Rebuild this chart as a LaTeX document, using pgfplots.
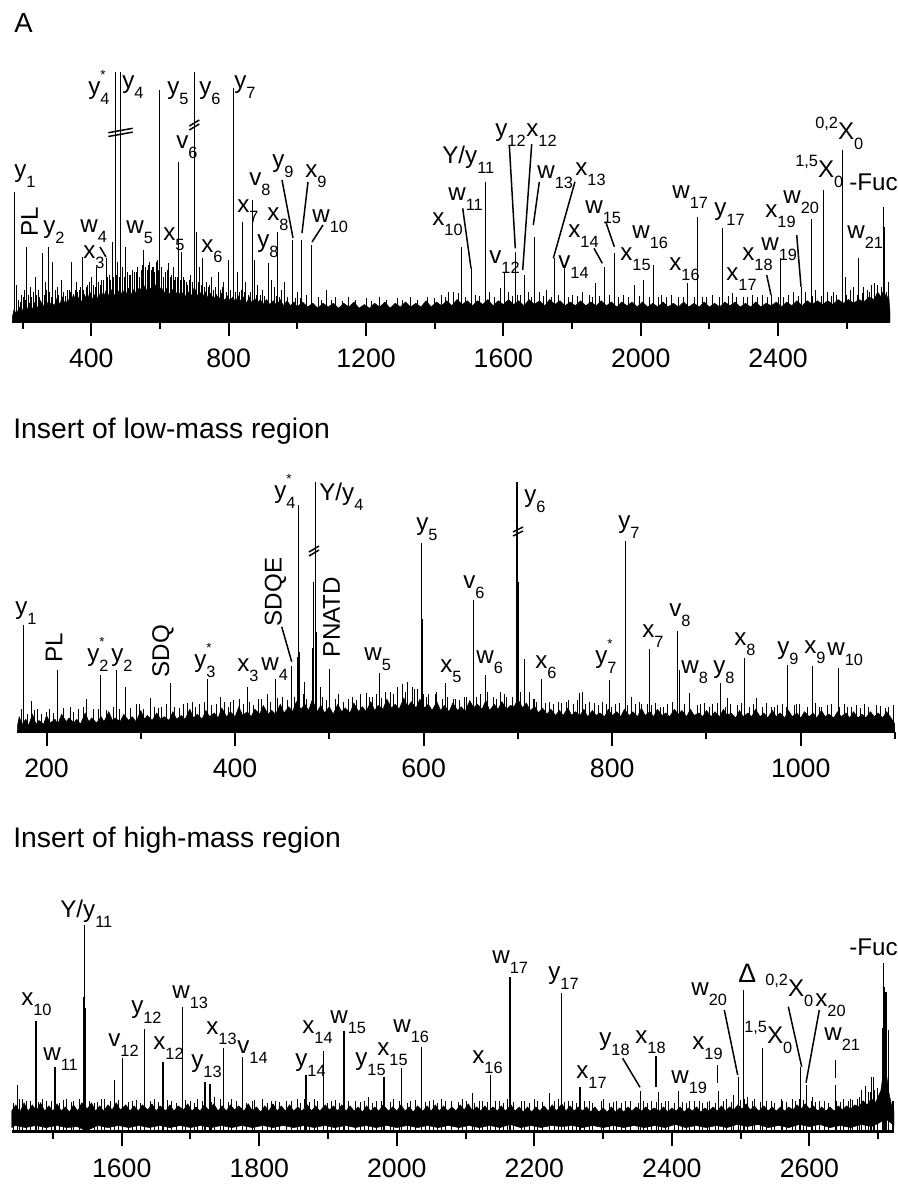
\documentclass[border=0pt]{standalone}
\usepackage{fontspec}
\setmainfont{Liberation Sans}
\usepackage{pgfplots}
\pgfplotsset{compat=1.18}

% label helpers: subscript, asterisk, prescript
\newcommand{\sbs}[1]{\raisebox{-6pt}{\fontsize{9.8}{10}\selectfont #1}}
\newcommand{\st}{\rlap{\raisebox{8.5pt}{\fontsize{8}{8}\selectfont *}}}
\newcommand{\pre}[1]{\raisebox{6.6pt}{\fontsize{9.8}{10}\selectfont #1}}

\pgfplotsset{
  spec/.style={
    scale only axis,
    anchor=south west,
    axis x line*=bottom,
    axis y line=none,
    ymin=0, ymax=100,
    tick align=outside,
    major tick length=8.4pt,
    minor tick length=4.2pt,
    every tick/.style={line width=1.2pt, black},
    axis line style={line width=1.5pt},
    xticklabel style={font=\fontsize{16}{18}\selectfont, inner sep=0pt, yshift=-7.8pt},
    /pgf/number format/assume math mode=true,
    /pgf/number format/1000 sep={},
    scaled x ticks=false,
  },
  stick/.style={ycomb, no markers, black, line width=0.5pt},
  grass/.style={ycomb, no markers, black, line width=0.4pt},
  band/.style={fill=black, draw=black, line width=0.3pt, no markers},
}

\begin{document}
\begin{tikzpicture}
\useasboundingbox (0,0) rectangle (538.8pt,-710.4pt);

%-----------------------------
% Top: full spectrum
%-----------------------------
\begin{axis}[spec,
    at={(7.2pt,-193.2pt)},
    width=526.8pt, height=150pt,
    xmin=169, xmax=2726,
    xtick={400,800,...,2400},
    minor xtick={200,600,...,2600}]
\addplot[band] coordinates {
(170,2)(175,5)(182,3)(190,6)(198,4)(205,7)(212,4.5)(220,7.5)(228,5)(236,8)(244,5.5)(252,8.5)(260,6)(268,9)(276,6)(284,8)(292,6.5)(300,9.5)(308,7)(316,10)(324,7)(332,9)(340,7.5)(348,11)(356,8)(364,10)(372,8)(380,11)(388,8.5)(396,12)(404,9)(412,11.5)(420,9)(428,12.5)(436,10)(444,13)(452,10)(460,13)(468,10.5)(476,13)(484,10.5)(492,12.5)(500,10.5)(508,13.5)(516,11)(524,13)(532,11)(540,14)(548,11.5)(556,14.5)(564,11.5)(572,13.5)(580,12)(588,15)(596,12)(604,14)(612,11.5)(620,13.5)(628,11)(636,13)(644,10.5)(652,12.5)(660,10.5)(668,12)(676,10)(684,12)(692,10.5)(700,14)(708,10.5)(716,12)(724,10)(732,12)(740,9.5)(748,11.5)(756,9)(764,11)(772,9)(780,11.5)(788,8.5)(796,10.5)(804,8.5)(812,10)(820,8)(828,10.5)(836,8)(844,10)(852,7.5)(860,10)(868,7.5)(876,9.5)(884,7.5)(892,9)(900,7)(910,9)(920,7)(930,8.5)(940,6.5)(950,9)(960,6.5)(970,8.5)(980,6.5)(990,8)(1000,6)(1015,8)(1030,6)(1045,7.5)(1060,5.5)(1075,7.5)(1090,6)(1105,7.5)(1120,5.5)(1135,7.5)(1150,6)(1165,8)(1180,5.5)(1195,7)(1210,5.5)(1225,7.5)(1240,6)(1255,8)(1270,5.5)(1285,7.5)(1300,6)(1315,8)(1330,6)(1345,7.5)(1360,6)(1375,8.5)(1390,6)(1405,8)(1420,6.5)(1435,8.5)(1450,6.5)(1465,9)(1480,7)(1495,8.5)(1510,6.5)(1525,8.5)(1540,7)(1555,9)(1570,6.5)(1585,8.5)(1600,7)(1615,9)(1630,7)(1645,8.5)(1660,6.5)(1675,9)(1690,7)(1705,8.5)(1720,6.5)(1735,9)(1750,7)(1765,8.5)(1780,6.5)(1795,8)(1810,6.5)(1825,8.5)(1840,6.5)(1855,8)(1870,6.5)(1885,8.5)(1900,6.5)(1915,8)(1930,6)(1945,8)(1960,6.5)(1975,8)(1990,6)(2005,8)(2020,6)(2035,7.5)(2050,6)(2065,8)(2080,6)(2095,7.5)(2110,6)(2125,8)(2140,6)(2155,7.5)(2170,6)(2185,8)(2200,6)(2215,7.5)(2230,6)(2245,8)(2260,6.5)(2275,8)(2290,6)(2305,7.5)(2320,6)(2335,8)(2350,6)(2365,7.5)(2380,6.5)(2395,8)(2410,6)(2425,8)(2440,6.5)(2455,8.5)(2470,6.5)(2485,8.5)(2500,7)(2515,8.5)(2530,7)(2545,8.5)(2560,7)(2575,9)(2590,7.5)(2605,9)(2620,7.5)(2635,9)(2650,8)(2665,10)(2680,9)(2690,12)(2700,10)(2708,13)(2716,9)(2722,11)(2726,4)
} \closedcycle;
% fine noise spikes
\addplot[grass] coordinates {
(186,9)(193,8)(201,10)(208,9)(216,11)(226,10)(231,12)(240,11)(249,10)(256,12)(263,11)(270,13)(279,12)(283,10)(295,13)(305,11)(318,12)(325,10.5)(335,13)(339,12)(352,13)(360,12)(369,14)(378,13)(385,14)(394,16)(405,15)(411,14)(421,16)(426,15)(436,17)(448,18)(456,17)(464,18)(472,19)(481,18)(489,19)(496,18)(505,20)(514,19)(518,21)(526,20)(535,22)(545,21)(550,23)(558,22)(566,23)(574,21)(581,22)(589,24)(596,21)(604,22)(615,20)(620,21)(630,18)(634,19)(642,17)(650,18)(658,17)(668,18)(676,16)(685,17)(694,16)(711,16)(720,15)(728,14)(740,14)(745,15)(756,13)(762,14)(776,13)(781,14)(792,12)(806,13)(818,12)(830,12)(836,13)(846,12)(858,11)(864,12)(880,11)(892,11)(905,10.5)(915,10)(938,10.5)(948,10)(972,10)(995,9.5)(1010,9.5)(1040,9)(1070,9)(1100,9)(1130,8.5)(1170,9)(1215,8.5)(1260,9)(1305,9)(1350,9)(1400,9.5)(1430,10)(1490,10)(1530,10.5)(1575,10)(1625,10.5)(1640,11)(1680,10)(1715,10.5)(1740,10)(1790,10)(1815,10.5)(1860,10)(1880,10.5)(1935,10)(1965,10)(1995,10.5)(2025,10)(2050,10)(2075,10)(2125,10)(2155,10)(2180,10)(2230,10)(2255,10.5)(2310,10)(2340,10)(2370,10)(2400,10)(2415,10)(2460,10.5)(2500,10.5)(2525,10.5)(2555,10.5)(2570,11)(2600,11)(2630,11)(2645,11.5)(2665,12)(2700,14)
};
% minor peaks
\addplot[stick] coordinates {
(182,15)(195,11)(205,13)(222,14)(236,18)(245,13)(265,16)(288,24)(300,14)(312,17)(330,13)(343,24)(356,16)(365,13)(374,26)(390,15)(400,18)(430,17)(452,19)(460,32)(476,24)(492,22)(510,19)(520,17)(530,20)(540,18)(562,21)(570,24)(578,22)(585,20)(592,25)(610,18)(639,22)(646,18)(663,28)(672,17)(680,15)(690,19)(706,36)(715,22)(735,16)(750,18)(770,20)(785,16)(825,20)(850,16)(874,25)(885,15)(898,13)(925,17)(932,14)(955,13)(963,16)(1000,12)(1025,11)(1060,10)(1086,13)(1110,10)(1150,10)(1200,9.5)(1240,10)(1290,9.5)(1330,10)(1380,10)(1420,11)(1440,12)(1454,12)(1470,11.6)(1520,11)(1560,12)(1590,13.5)(1615,12)(1650,11)(1672,12)(1705,12)(1726,13)(1760,11)(1800,11)(1830,12)(1850,11)(1868,15.5)(1910,11)(1950,11)(1981,15)(2007,17)(2060,11)(2090,11)(2110,10)(2190,10)(2210,11)(2280,10)(2300,10)(2325,11)(2354,11)(2380,11)(2430,11)(2445,12)(2467,14)(2480,12)(2510,13)(2545,12)(2560,12)(2595,18)(2610,13)(2620,14)(2650,14)(2660,13)(2672,15)(2680,15.5)(2690,15)(2715,12)(2720,16)
};
% assigned peaks
\addplot[stick] coordinates {
(177,52.1)(212,30)(258,27.6)(274,30)(416,22)(443,25.6)(469,100)(485,100)(486,65)(500,30)(553,28.8)(598,92.8)(624,23.6)(653,64.1)(700,100)(725,25.6)(798,24.8)(813,93.5)(840,40.1)(869,48.8)(915,23.5)(942,36.1)(986,32.8)(1013,32.8)(1042,31)(1478.6,30.1)(1505.8,21.5)(1547.4,56.1)(1601.8,19.5)(1634.8,28.1)(1660,18.8)(1689.3,34.1)(1747.5,25.5)(1776.6,22.8)(1893,22.1)(1923,27.5)(2036.7,22.8)(2136.8,15.5)(2164.9,42.1)(2238.7,37.5)(2266.8,11.5)(2406.5,25.5)(2495.7,41.1)(2530.7,52.8)(2586,68.8)(2633.7,25.5)(2706.5,45.9)(2710,38)
};
\end{axis}

%-----------------------------
% Middle: low-mass insert
%-----------------------------
\begin{axis}[spec,
    at={(10.38pt,-439.02pt)},
    width=526.62pt, height=150pt,
    xmin=169, xmax=1100,
    xtick={200,400,...,1000},
    minor xtick={300,500,...,1100}]
\addplot[band] coordinates {
(169,2)(171,6)(174,3)(178,5)(181,2.5)(185,7)(189,3)(192,4.5)(197,3)(200,6.5)(204,3.5)(209,5)(212,3)(216,7)(221,4)(224,5.5)(229,3.5)(232,5)(236,3)(241,7.5)(245,4)(248,5.5)(253,3.5)(258,6)(261,4)(266,8)(270,4.5)(273,5.5)(278,4)(282,7)(287,4.5)(291,6)(295,4)(300,8.5)(304,5)(307,6.5)(312,4.5)(317,7.5)(321,5)(325,6)(330,4.5)(334,8)(338,5)(343,6.5)(347,5)(352,9)(356,5.5)(360,7)(365,5)(369,8.5)(373,6)(378,7.5)(382,5.5)(386,9.5)(391,6)(395,8)(400,6)(404,10)(408,6.5)(413,8)(417,6)(421,9)(426,7)(430,10.5)(435,7)(439,8.5)(443,7)(448,11)(452,7.5)(457,10)(461,8)(465,12)(470,9)(474,11)(478,8.5)(482,13)(487,8)(491,10.5)(495,7.5)(500,10)(504,7)(509,11)(513,8)(517,9.5)(522,7.5)(526,11.5)(531,8)(535,10)(539,8)(544,12)(548,8.5)(552,10.5)(557,9)(561,13)(566,9.5)(570,11)(574,9)(579,13.5)(583,10)(587,12)(592,9.5)(596,13)(601,9.5)(605,11)(609,8.5)(614,12)(618,8.5)(622,10.5)(627,8)(631,11.5)(636,8.5)(640,10)(644,8)(649,12.5)(653,9.5)(657,11)(662,9)(666,12.5)(670,8.5)(675,11)(679,9)(683,12)(688,9)(692,10.5)(696,10)(700,13)(705,9.5)(709,11.5)(713,8.5)(718,10)(722,7.5)(726,9.5)(731,7)(735,9)(740,6.5)(744,8.5)(748,6.5)(753,9.5)(757,6.5)(761,8)(766,6.5)(770,9)(774,6)(779,8.5)(783,6.5)(787,7.5)(792,6)(796,9)(800,6.5)(805,8)(809,6)(813,9)(818,6.5)(822,8)(827,6)(831,9.5)(835,6.5)(840,8)(844,6)(848,9)(853,6.5)(857,7.5)(861,6)(866,9)(870,7)(874,8.5)(879,6)(883,9)(887,6.5)(892,7.5)(896,6)(900,8.5)(905,6)(909,8)(914,6)(918,9)(922,6.5)(926,7.5)(931,5.5)(935,8.5)(939,6)(944,7.5)(948,6)(952,9)(957,6)(961,7.5)(965,5.5)(970,8.5)(974,6)(978,7.5)(983,5.5)(987,8.5)(991,6)(996,7.5)(1000,5.5)(1004,8)(1009,6)(1013,7.5)(1017,5.5)(1022,8.5)(1026,6)(1030,7)(1035,5.5)(1039,8)(1043,6)(1048,7.5)(1052,5.5)(1056,8)(1061,5.5)(1065,7)(1069,5.5)(1074,8)(1078,6)(1082,7.5)(1087,5.5)(1091,8)(1095,6)(1100,3)
} \closedcycle;
\addplot[grass] coordinates {
(173,9)(180,7)(187,8.5)(194,7)(203,9)(207,7.5)(218,9.5)(228,8)(234,9)(239,10)(255,9)(263,8.5)(271,10)(277,9)(289,9.5)(298,11)(303,9)(314,10)(319,9.5)(327,11)(336,10)(341,9.5)(349,11.5)(358,10)(362,11)(367,12)(375,10.5)(380,11)(389,12)(393,10)(398,12.5)(409,11)(415,12)(419,10.5)(428,13)(437,12)(445,13.5)(455,12.5)(463,14)(472,15)(476,13)(493,14)(497,12.5)(506,13)(515,12)(524,14)(529,12.5)(533,15)(542,14)(550,15)(555,13.5)(559,16)(568,15)(581,16)(590,17)(600,15)(603,14)(612,15)(620,13)(625,14)(634,13)(638,12.5)(643,14)(656,14)(660,15)(668,16)(677,13)(686,15)(694,14)(703,16)(716,13)(720,12)(729,11.5)(733,12)(738,11)(746,11.5)(751,12)(759,11)(763,12.5)(772,11)(781,11.5)(785,10.5)(794,11)(799,10)(808,11.5)(816,10.5)(825,11)(829,12)(837,11)(842,10.5)(846,11.5)(851,10)(859,11)(864,12)(877,11)(890,10.5)(894,11)(903,10)(912,11.5)(920,10)(925,11)(933,10.5)(937,11.5)(946,10)(950,11)(959,10)(963,11.5)(972,10)(980,11)(985,10)(993,10.5)(998,11)(1007,10)(1015,11.5)(1020,10)(1028,10.5)(1033,11)(1041,10)(1046,11)(1054,10)(1059,10.5)(1067,11)(1072,10)(1080,10.5)(1093,10)(1098,10.5)
};
\addplot[stick] coordinates {
(183.5,12.4)(190,9)(200,8)(225,10)(242.6,13)(250,9)(284,18)(295,11)(310.5,13.4)(322,10)(345,11)(355,12)(384,14)(395,12)(405,13)(425,13)(434,15)(450,14)(460,26.3)(466,30)(468,32)(474,20)(482.4,33.5)(483.5,60)(485.8,40)(490,18)(510,15)(520,13)(539.6,15.4)(546,14)(565,16)(572,18)(577,19)(583,20)(588,18)(593,17)(598.5,45)(605,15)(614,16)(631.5,13)(645,14)(653.3,30)(674,14)(681,16)(688,14)(698.6,100)(700.2,60)(706.8,29.1)(712,16)(718,13)(742.9,12)(753.5,12.7)(765,15.5)(768.8,16)(776,12)(790,12)(803,11)(814.2,35)(820,14)(831,11)(854.3,10)(881.5,15.6)(897.8,11.4)(906,11)(922.6,13.6)(952.9,13.5)(968.5,10)(975,10.5)(995,11)(1022,10)(1050,10)(1063,9.5)(1085,10.3)(1090,9.5)
};
\addplot[stick] coordinates {
(175.4,42.7)(211.4,24.7)(257.5,22.7)(274,24.7)(331.7,19.6)(370.5,21.1)(413,18)(442.4,21.1)(467.1,90.7)(484.8,100)(500,25.1)(552.7,23.5)(598,75.6)(623.6,19.4)(652.7,52.7)(665.9,22.7)(699.4,100)(724.5,21.1)(796.7,20.7)(813.6,76.3)(839.8,33)(868.8,40.4)(871,24.7)(914.4,19.4)(940.6,29.6)(985.8,26.7)(1012.3,26.4)(1040.3,25.6)
};
\end{axis}

%-----------------------------
% Bottom: high-mass insert
%-----------------------------
\begin{axis}[spec,
    at={(7.02pt,-679.02pt)},
    width=529.38pt, height=124.02pt,
    xmin=1440, xmax=2723,
    xtick={1600,1800,...,2600},
    minor xtick={1500,1700,...,2700}]
\addplot[band] coordinates {
(1440,10)(1446,13)(1452,9.5)(1458,14)(1464,10)(1470,13)(1476,10)(1482,14)(1488,10)(1494,12.5)(1500,10)(1506,13.5)(1512,10)(1518,12)(1524,9.5)(1530,13)(1536,10)(1542,14)(1550,11)(1556,14)(1562,10)(1568,12.5)(1574,10)(1580,13)(1586,10.5)(1592,14)(1598,10.5)(1606,13)(1612,10)(1618,12.5)(1624,10)(1630,13)(1638,10.5)(1644,13.5)(1650,10)(1656,12.5)(1664,10)(1670,13)(1676,10)(1682,12.5)(1690,10.5)(1696,13.5)(1702,10)(1708,12)(1714,10)(1720,13)(1726,10.5)(1734,13.5)(1740,10)(1746,12.5)(1752,10)(1758,13)(1764,10.5)(1770,12.5)(1778,10)(1784,13.5)(1790,10)(1796,12)(1802,9.5)(1808,12.5)(1814,10)(1820,13.5)(1826,10)(1832,12.5)(1838,10)(1844,13)(1850,10)(1856,12)(1862,10)(1870,13)(1876,10)(1882,12.5)(1888,10)(1896,13)(1902,10.5)(1908,12.5)(1914,10)(1920,13)(1926,10)(1932,12.5)(1938,10)(1944,12)(1950,9.5)(1956,12.5)(1962,10)(1968,12)(1974,10)(1980,13)(1988,10)(1994,12)(2000,10)(2006,13)(2012,10)(2018,12)(2024,9.5)(2030,12.5)(2038,10)(2044,12.5)(2050,10)(2056,13)(2062,10)(2068,12.5)(2074,10)(2080,12)(2086,10)(2092,13)(2098,10.5)(2104,13.5)(2110,10)(2116,12)(2122,10)(2128,12.5)(2134,10)(2140,12)(2146,10)(2152,12.5)(2158,10)(2166,13)(2172,10)(2178,12)(2184,9.5)(2190,12)(2196,9.5)(2202,12)(2208,10)(2214,12.5)(2220,10)(2226,13)(2232,10)(2240,13.5)(2246,10)(2252,12.5)(2258,10)(2264,12)(2270,10)(2276,12)(2282,9.5)(2288,12)(2294,9.5)(2300,11.5)(2306,9.5)(2312,12)(2318,9.5)(2324,11.5)(2330,9.5)(2336,12)(2342,10)(2348,12)(2356,10)(2362,12)(2368,10)(2374,11.5)(2382,10)(2388,12)(2394,9.5)(2400,11.5)(2406,10)(2412,12)(2418,9.5)(2424,11.5)(2430,10)(2436,12)(2442,9.5)(2448,11.5)(2454,10)(2460,12)(2466,10)(2472,12.5)(2478,10)(2484,12)(2490,10.5)(2496,13)(2502,11)(2508,13.5)(2514,10.5)(2520,12.5)(2526,10)(2534,12.5)(2540,10)(2546,12)(2552,10)(2558,12)(2564,10)(2570,12)(2576,10.5)(2582,13)(2588,11)(2594,13.5)(2600,11)(2606,12.5)(2612,10)(2618,12)(2624,10)(2630,12)(2636,10)(2642,12.5)(2648,10.5)(2654,12.5)(2660,11)(2666,13)(2672,12)(2678,15)(2684,13)(2690,16)(2696,14)(2700,17)(2704,20)(2708,30)(2712,28)(2716,18)(2720,12)(2723,10)
(2723,3)(2712,6)(2705,5)(2700,4)(2690,2.5)(2675,3.5)(2660,2)(2645,3)(2630,2)(2615,3.5)(2600,2.5)(2585,3.5)(2570,2)(2555,3)(2540,2)(2525,3.5)(2510,2.5)(2495,3.5)(2480,2)(2465,3)(2450,2)(2435,3)(2420,2)(2405,3.5)(2390,2)(2375,3)(2360,2)(2345,3)(2330,2)(2315,3)(2300,2)(2285,3)(2270,2)(2255,3)(2240,2.5)(2225,3)(2210,2)(2195,3)(2180,2)(2165,3.5)(2150,2)(2135,3)(2120,2)(2105,3)(2090,2)(2075,3)(2060,2)(2045,3)(2030,2)(2015,3)(2000,2)(1985,3)(1970,2)(1955,3)(1940,2)(1925,3)(1910,2)(1895,3)(1880,2)(1865,3)(1850,2)(1835,3)(1820,2)(1805,3)(1790,2)(1775,3)(1760,2)(1745,3)(1730,2)(1715,3)(1700,2)(1685,3)(1670,2)(1655,3)(1640,2)(1625,3)(1610,2)(1595,3)(1580,2)(1565,3)(1552,1)(1548,0.5)(1545,1)(1535,2.5)(1520,2)(1505,3)(1490,2)(1475,3)(1460,2)(1445,3)(1440,2)
} -- cycle;
\addplot[grass] coordinates {
(1443,14)(1451,16)(1467,15)(1479,14.5)(1485,16)(1497,15)(1509,14)(1515,15.5)(1527,14.5)(1539,16)(1553,15)(1565,14.5)(1571,16)(1583,15)(1595,15.5)(1609,14.5)(1621,15.5)(1627,14)(1641,15)(1653,14.5)(1667,15.5)(1679,14)(1693,15.5)(1705,14)(1717,15)(1731,14.5)(1743,16)(1755,14.5)(1767,15)(1781,14)(1793,15.5)(1811,14)(1817,15)(1829,14.5)(1847,15)(1859,14)(1865,16)(1873,14.5)(1885,15)(1899,14)(1911,15.5)(1917,14)(1929,15)(1947,14.5)(1953,15)(1965,14)(1977,15)(1991,14.5)(2003,15)(2015,14)(2027,15.5)(2041,14.5)(2047,15)(2059,14)(2071,15)(2089,14.5)(2101,15)(2113,14)(2125,15)(2131,14.5)(2143,15)(2155,14)(2161,16)(2169,14.5)(2181,15)(2193,14)(2205,15)(2211,14.5)(2229,15)(2235,16)(2243,14.5)(2255,15)(2261,14)(2273,15)(2285,14)(2297,15)(2309,14)(2315,14.5)(2327,14)(2333,15)(2351,14)(2359,15)(2365,14)(2377,14.5)(2385,14)(2391,15)(2403,14)(2415,14.5)(2421,14)(2433,15)(2445,14)(2451,14.5)(2463,14)(2475,15)(2487,14.5)(2499,15.5)(2505,16)(2517,15)(2529,14.5)(2537,15)(2549,14)(2561,15)(2567,14.5)(2579,15)(2585,16)(2591,15.5)(2603,15)(2609,14.5)(2621,15)(2627,14)(2639,15)(2645,14.5)(2657,15)(2663,15.5)(2669,16)(2673,17)(2681,18)(2688,19)(2694,20)(2699,21)
};
\addplot[stick, line width=0.6pt] coordinates {
(1448,22.6)(1455,16)(1462,15)(1490,15)(1520,16)(1530,15)(1560,14)(1575,16)(1588.8,25)(1615,15)(1648,16)(1672,15)(1700,15)(1710,16)(1735,17)(1760,16)(1790,15)(1805,16)(1824,15)(1840,15)(1855,16)(1880,16)(1905,15)(1940,15)(1958.6,17)(1970,15)(1995,16)(2020,15)(2053,15.3)(2065,16)(2080,15)(2095,16)(2110.2,18.7)(2120,15)(2150,15)(2185,15)(2200,16)(2221.8,18.6)(2250,15)(2280,15)(2300,16)(2320,15)(2340,15)(2370,15)(2395,15)(2425,15)(2440,15)(2455,15)(2480,16)(2490,18)(2510,17)(2520,16)(2545,15)(2560,16)(2575,16)(2605,17)(2615,15)(2650,16)(2660,16)(2676,20)(2682,22)(2686,19)
};
\addplot[stick, line width=0.7pt] coordinates {
(1475.3,53.6)(1503,31.4)(1544.5,65)(1545.6,100)(1546.5,60)(1547.5,35)(1601.4,35.5)(1633.4,49.5)(1660,33.6)(1688.1,60.5)(1721.1,24.2)(1728.4,23)(1747.7,40.3)(1776,36)(1868,27.4)(1893.2,39.2)(1923.3,48.9)(1981.4,26.6)(2007.2,30.7)(2036.3,41.1)(2136.6,27.4)(2163.8,30)(2164.7,75)(2165.5,46)(2238.9,67)(2239.6,40)(2266.5,21.5)(2354.8,19.8)(2380.4,19)(2409.4,19.8)(2468.2,19.8)(2496.7,26.6)(2504,22.6)(2532.2,40.3)(2587.5,31.4)(2595.2,22.6)(2638.4,22.6)(2689.7,26.5)(2693,26.6)(2698.5,20)(2706,50)(2707.6,81.5)(2709.5,70)(2711.4,67.7)(2714.4,49)(2721.6,15)
};
\end{axis}

%-----------------------------
% Annotations (pixel grid of the figure)
%-----------------------------
\begin{scope}[x=0.6pt, y=-0.6pt,
    lb/.style={anchor=base west, inner sep=0pt, font=\fontsize{14.5}{16}\selectfont},
    rot/.style={rotate=90, inner sep=0pt, font=\fontsize{14.5}{16}\selectfont},
    ptr/.style={line width=0.9pt}]

\node[lb, font=\fontsize{16.5}{18}\selectfont] at (14,32) {A};
\node[lb, font=\fontsize{17}{19}\selectfont] at (13,438) {Insert of low-mass region};
\node[lb, font=\fontsize{17}{19}\selectfont] at (13,847) {Insert of high-mass region};

% top panel
\node[lb] at (14,177) {y\sbs{1}};
\node[rot] at (29.5,222) {PL};
\node[lb] at (43,233) {y\sbs{2}};
\node[lb] at (80,232) {w\sbs{4}};
\node[lb] at (83,258) {x\sbs{3}};
\draw[ptr] (100,247) -- (106,257);
\node[lb] at (88,94) {y\st\sbs{4}};
\node[lb] at (122,88) {y\sbs{4}};
\node[lb] at (126,233) {w\sbs{5}};
\node[lb] at (167,94) {y\sbs{5}};
\node[lb] at (163,240) {x\sbs{5}};
\node[lb] at (176,148) {v\sbs{6}};
\node[lb] at (199,94) {y\sbs{6}};
\node[lb] at (201,252) {x\sbs{6}};
\node[lb] at (234,88) {y\sbs{7}};
\node[lb] at (237,212) {x\sbs{7}};
\node[lb] at (249,185) {v\sbs{8}};
\node[lb] at (267,220) {x\sbs{8}};
\node[lb] at (257,247) {y\sbs{8}};
\node[lb] at (272,167) {y\sbs{9}};
\draw[ptr] (282,180) -- (293,238);
\node[lb] at (305,177) {x\sbs{9}};
\draw[ptr] (308,182) -- (302,233);
\node[lb] at (312,222) {w\sbs{10}};
\draw[ptr] (323,225) -- (312,242);
\node[lb] at (432,225) {x\sbs{10}};
\node[lb] at (448,200) {w\sbs{11}};
\draw[ptr] (462.7,208.3) -- (471,268.3);
\node[lb] at (442,163) {Y/y\sbs{11}};
\node[lb] at (495,136) {y\sbs{12}};
\draw[ptr] (509.3,145) -- (515.3,248.3);
\node[lb] at (526,136) {x\sbs{12}};
\draw[ptr] (531.7,144) -- (522.7,270);
\node[lb] at (537,178) {w\sbs{13}};
\draw[ptr] (539.3,182) -- (533.3,225);
\node[lb] at (575,175) {x\sbs{13}};
\draw[ptr] (575,181.7) -- (553.3,258.3);
\node[lb] at (585,213) {w\sbs{15}};
\draw[ptr] (605.7,221.7) -- (614.3,246.7);
\node[lb] at (568,237) {x\sbs{14}};
\draw[ptr] (594,248.3) -- (602.3,263.3);
\node[lb] at (489,263) {v\sbs{12}};
\node[lb] at (558,268) {v\sbs{14}};
\node[lb] at (632,238) {w\sbs{16}};
\node[lb] at (620,260) {x\sbs{15}};
\node[lb] at (669,270) {x\sbs{16}};
\node[lb] at (672,198) {w\sbs{17}};
\node[lb] at (714,215) {y\sbs{17}};
\node[lb] at (726,280) {x\sbs{17}};
\node[lb] at (742,260) {x\sbs{18}};
\draw[ptr] (766.7,275) -- (771,295);
\node[lb] at (761,250) {w\sbs{19}};
\node[lb] at (765,217) {x\sbs{19}};
\draw[ptr] (796.7,235) -- (801,286.7);
\node[lb] at (783,203) {w\sbs{20}};
\node[lb] at (795,177) {\pre{1,5}X\sbs{0}};
\node[lb] at (815,139) {\pre{0,2}X\sbs{0}};
\node[lb] at (849,190) {-Fuc};
\node[lb] at (847,238) {w\sbs{21}};
% break marks
\draw[ptr] (108.3,132.7) -- (132.7,128.3);
\draw[ptr] (108.3,136.5) -- (132.7,132.1);
\draw[ptr] (189.3,126) -- (199.3,120);
\draw[ptr] (189.3,130) -- (199.3,124);

% middle panel
\node[lb] at (15,614) {y\sbs{1}};
\node[rot] at (54,648) {PL};
\node[lb] at (87,661) {y\st\sbs{2}};
\node[lb] at (111,661) {y\sbs{2}};
\node[rot] at (163,651) {SDQ};
\node[lb] at (194,667) {y\st\sbs{3}};
\node[lb] at (237,671) {x\sbs{3}};
\node[lb] at (261,670) {w\sbs{4}};
\node[rot] at (275.5,592) {SDQE};
\draw[ptr] (281.7,626.7) -- (291.7,661.7);
\node[rot] at (331.5,617) {PNATD};
\node[lb] at (274,498) {y\st\sbs{4}};
\node[lb] at (319,500) {Y/y\sbs{4}};
\node[lb] at (364,660) {w\sbs{5}};
\node[lb] at (416,530) {y\sbs{5}};
\node[lb] at (440,672) {x\sbs{5}};
\node[lb] at (463,588) {v\sbs{6}};
\node[lb] at (476,663) {w\sbs{6}};
\node[lb] at (524,502) {y\sbs{6}};
\node[lb] at (535,668) {x\sbs{6}};
\node[lb] at (595,663) {y\st\sbs{7}};
\node[lb] at (618,528) {y\sbs{7}};
\node[lb] at (642,637) {x\sbs{7}};
\node[lb] at (669,616) {v\sbs{8}};
\node[lb] at (681,673) {w\sbs{8}};
\node[lb] at (713,673) {y\sbs{8}};
\node[lb] at (734,645) {x\sbs{8}};
\node[lb] at (777,654) {y\sbs{9}};
\node[lb] at (804,653) {x\sbs{9}};
\node[lb] at (827,655) {w\sbs{10}};
\draw[ptr] (309,552) -- (319,546);
\draw[ptr] (309,556) -- (319,550);
\draw[ptr] (513,532) -- (523,527);
\draw[ptr] (513,536) -- (523,531);

% bottom panel
\node[lb] at (21,1005) {x\sbs{10}};
\node[lb] at (43,1060) {w\sbs{11}};
\node[lb] at (60,917) {Y/y\sbs{11}};
\node[lb] at (108,1046) {v\sbs{12}};
\node[lb] at (131,1013) {y\sbs{12}};
\node[lb] at (153,1049) {x\sbs{12}};
\node[lb] at (172,998) {w\sbs{13}};
\node[lb] at (191,1067) {y\sbs{13}};
\node[lb] at (206,1034) {x\sbs{13}};
\node[lb] at (237,1053) {v\sbs{14}};
\node[lb] at (295,1066) {y\sbs{14}};
\node[lb] at (302,1033) {x\sbs{14}};
\node[lb] at (330,1023) {w\sbs{15}};
\node[lb] at (355,1065) {y\sbs{15}};
\node[lb] at (377,1055) {x\sbs{15}};
\node[lb] at (393,1032) {w\sbs{16}};
\node[lb] at (472,1063) {x\sbs{16}};
\node[lb] at (492,963) {w\sbs{17}};
\node[lb] at (548,979) {y\sbs{17}};
\node[lb] at (576,1078) {x\sbs{17}};
\node[lb] at (599,1045) {y\sbs{18}};
\draw[ptr] (622.7,1058.3) -- (640,1087.3);
\node[lb] at (635,1043) {x\sbs{18}};
\draw[ptr] (656,1056) -- (656,1086.7);
\node[lb] at (671,1083) {w\sbs{19}};
\node[lb] at (692,1049) {x\sbs{19}};
\draw[ptr] (717.3,1065) -- (717.3,1082.7);
\node[lb] at (691,995) {w\sbs{20}};
\draw[ptr] (724.3,1010) -- (737.7,1075);
\node[lb, font=\fontsize{16}{18}\selectfont] at (738,982) {Δ};
\draw[ptr] (743.3,990) -- (743.3,1088.3);
\node[lb] at (744,1043.3) {\pre{1,5}X\sbs{0}};
\node[lb] at (765,996) {\pre{0,2}X\sbs{0}};
\draw[ptr] (788.3,1006.7) -- (801.7,1066.7);
\node[lb] at (815,1006) {x\sbs{20}};
\draw[ptr] (819.3,1010) -- (806,1082.7);
\node[lb] at (824,1040) {w\sbs{21}};
\draw[ptr] (835.7,1060) -- (835.7,1078.3);
\node[lb] at (849,955) {-Fuc};
\end{scope}
\end{tikzpicture}
\end{document}
